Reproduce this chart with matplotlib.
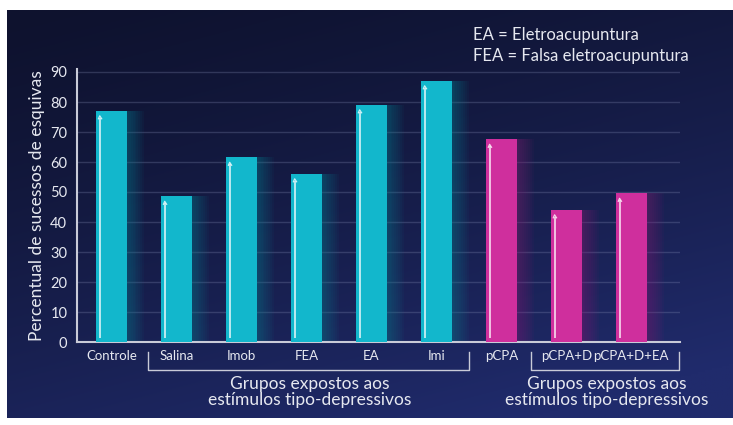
import numpy as np
import matplotlib
matplotlib.use('Agg')
import matplotlib.pyplot as plt
from matplotlib import transforms

# data
groups = ['Controle', 'Salina', 'Imob', 'FEA', 'EA', 'Imi', 'pCPA', 'pCPA+D', 'pCPA+D+EA']
values = [77, 48.5, 61.5, 56, 79, 87, 67.5, 44, 49.5]
bar_colors = ['cyan'] * 6 + ['magenta'] * 3
yticks = [0, 10, 20, 30, 40, 50, 60, 70, 80, 90]
group_text = 'Grupos expostos aos\nestímulos tipo-depressivos'
legend_lines = ['EA = Eletroacupuntura', 'FEA = Falsa eletroacupuntura']

palette = {'cyan': '#12b7cc', 'magenta': '#cf2f9d'}
glow = {'cyan': '#0b7f93', 'magenta': '#8a1e78'}

plt.rcParams['font.family'] = ['Lato', 'DejaVu Sans']
txt = '#e6e8f0'

W, H = 733, 425
fig = plt.figure(figsize=(W / 100, H / 100), dpi=100, facecolor='white')

# dark gradient background panel (darker at the top, bluer towards bottom right)
bg = fig.add_axes([7 / W, 7 / H, 1 - 7 / W, (418 - 10) / H])
yy, xx = np.mgrid[0:1:200j, 0:1:300j]
t = np.clip(0.35 * xx + 0.75 * yy, 0, 1) ** 1.3
c0 = np.array([0x0e, 0x12, 0x2e]) / 255
c1 = np.array([0x20, 0x2b, 0x6c]) / 255
img = c0[None, None, :] * (1 - t[..., None]) + c1[None, None, :] * t[..., None]
bg.imshow(img, aspect='auto', extent=[0, 1, 0, 1], origin='upper')
bg.set_axis_off()

ax = fig.add_axes([77 / W, (H - 342) / H, (680 - 77) / W, 273 / H])
ax.set_facecolor('none')
x = np.arange(len(groups))
bw = 0.47

for xi, v, c in zip(x, values, bar_colors):
    # soft glow to the right
    for i in range(10):
        ax.bar(xi + 0.015 * i, v, width=bw + 0.03 * i, color=glow[c], alpha=0.06, zorder=2, linewidth=0)
    ax.bar(xi, v, width=bw, color=palette[c], zorder=3, linewidth=0)
    # white highlight line with little tip
    xl = xi - bw / 2 + 0.055
    ax.plot([xl, xl], [1.2, v - 2.2], color='white', lw=1.1, alpha=0.9, zorder=4, solid_capstyle='butt')
    ax.plot([xl - 0.02, xl, xl + 0.03], [v - 2.6, v - 1.6, v - 2.6], color='white', lw=0.9, alpha=0.8, zorder=4)

ax.set_xlim(-0.53, 8.75)
ax.set_ylim(0, 91)
ax.set_yticks(yticks)
ax.yaxis.grid(True, color='#8890b8', alpha=0.28, lw=1)
ax.set_axisbelow(True)
ax.tick_params(axis='y', length=0, pad=7, labelsize=10.5, labelcolor=txt)
ax.set_xticks(x)
ax.set_xticklabels(groups)
ax.tick_params(axis='x', length=0, pad=6, labelsize=9.5, labelcolor=txt)
for s in ['top', 'right']:
    ax.spines[s].set_visible(False)
for s in ['left', 'bottom']:
    ax.spines[s].set_color('#c9cbd8')
    ax.spines[s].set_linewidth(1.5)

ax.set_ylabel('Percentual de sucessos de esquivas', color=txt, fontsize=12.5, labelpad=4)

# brackets under groups
tr = transforms.blended_transform_factory(ax.transData, ax.transAxes)
for xa, xb in [(0.57, 5.51), (6.45, 8.73)]:
    ax.plot([xa, xa, xb, xb], [-0.037, -0.103, -0.103, -0.037], color='#c9cbd8', lw=1,
            transform=tr, clip_on=False)

ax.text(3.05, -0.125, group_text, transform=tr, ha='center', va='top', color=txt,
        fontsize=12.5, linespacing=1.0)
ax.text(7.62, -0.125, group_text, transform=tr, ha='center', va='top', color=txt,
        fontsize=12.5, linespacing=1.0)

fig.text(473 / W, 1 - 35 / H, legend_lines[0], color=txt, fontsize=12, va='center')
fig.text(473 / W, 1 - 56 / H, legend_lines[1], color=txt, fontsize=12, va='center')

fig.savefig('out.png', dpi=100, facecolor='white')
